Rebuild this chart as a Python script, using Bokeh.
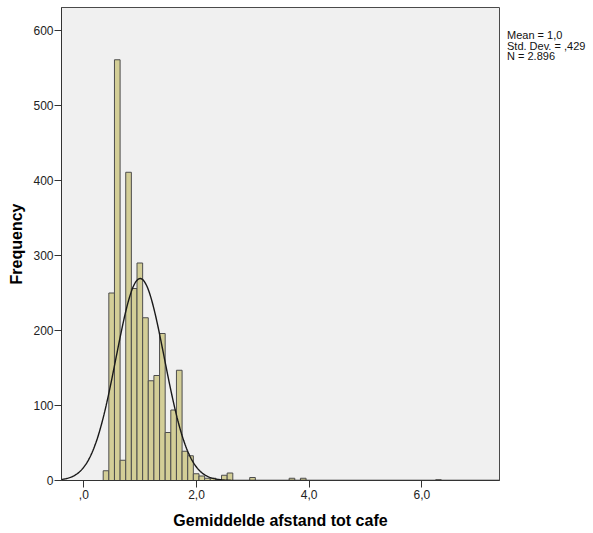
import numpy as np
from bokeh.plotting import figure
from bokeh.models import ColumnDataSource, FixedTicker, Range1d, Div
from bokeh.layouts import row
from bokeh.embed import file_html
from bokeh.resources import INLINE

# ---- data ----
bin_start = 0.344
bin_width = 0.1
bin_index = [0, 1, 2, 3, 4, 5, 6, 7, 8, 9, 10, 11, 12, 13, 14, 15, 16, 17, 18, 19, 20, 21, 22, 26, 33, 35, 59]
counts    = [13, 250, 561, 27, 411, 256, 290, 217, 133, 140, 196, 64, 94, 147, 39, 33, 9, 6, 3, 3, 1, 7, 10, 4, 3, 3, 1]

mean_val = 1.0
sd_val = 0.429
n_val = 2896

x_ticks = [0, 2, 4, 6]
x_tick_labels = [",0", "2,0", "4,0", "6,0"]
y_ticks = [0, 100, 200, 300, 400, 500, 600]
stats_lines = ["Mean = 1,0", "Std. Dev. = ,429", "N = 2.896"]

x_label = "Gemiddelde afstand tot cafe"
y_label = "Frequency"

# ---- build ----
left = [bin_start + i * bin_width for i in bin_index]
right = [l + bin_width for l in left]
src = ColumnDataSource(dict(left=left, right=right, top=counts, bottom=[0] * len(counts)))

x0, x1 = -0.396, 7.377
p = figure(width=500, height=533, output_backend="svg", toolbar_location=None,
           x_range=Range1d(x0, x1), y_range=Range1d(0, 630.7),
           min_border_left=61, min_border_right=1, min_border_top=7, min_border_bottom=53,
           margin=(0, 0, 0, 0))
p.background_fill_color = "#f0f0f0"
p.border_fill_color = "white"
p.outline_line_color = "#4a4a4a"
p.outline_line_width = 1
p.grid.visible = False

p.quad(left="left", right="right", top="top", bottom="bottom", source=src,
       fill_color="#d3ce97", line_color="#4d4d4d", line_width=1)

xs = np.linspace(x0, x1, 600)
ys = n_val * bin_width / (sd_val * np.sqrt(2 * np.pi)) * np.exp(-0.5 * ((xs - mean_val) / sd_val) ** 2)
p.line(xs, ys, line_color="#1a1a1a", line_width=1.4)

font = "Liberation Sans"
p.xaxis.ticker = FixedTicker(ticks=x_ticks)
p.xaxis.major_label_overrides = {t: s for t, s in zip(x_ticks, x_tick_labels)}
p.yaxis.ticker = FixedTicker(ticks=y_ticks)
for ax in (p.xaxis, p.yaxis):
    ax.minor_tick_line_color = None
    ax.major_tick_in = 0
    ax.major_tick_out = 7
    ax.major_tick_line_color = "#333333"
    ax.axis_line_color = "#333333"
    ax.major_label_text_font = font
    ax.major_label_text_font_size = "12px"
    ax.major_label_text_color = "#222222"
    ax.axis_label_text_font = font
    ax.axis_label_text_font_style = "bold"
    ax.axis_label_text_font_size = "16px"
    ax.axis_label_text_color = "#000000"
p.xaxis.axis_label = x_label
p.yaxis.axis_label = y_label
p.xaxis.major_label_standoff = 2
p.yaxis.major_label_standoff = 1
p.xaxis.axis_label_standoff = 10
p.yaxis.axis_label_standoff = 5

stats_html = "<br>".join(stats_lines)
div = Div(text=stats_html, width=93, height=533, margin=(0, 0, 0, 0),
          styles={"font-family": "'Liberation Sans', Arial, sans-serif", "font-size": "11px",
                  "line-height": "10.5px", "color": "#111111", "padding-top": "30px",
                  "padding-left": "7px", "white-space": "nowrap"})

layout = row(p, div, margin=(0, 0, 0, 0), spacing=0)
open("out.html", "w").write(file_html(layout, INLINE))
